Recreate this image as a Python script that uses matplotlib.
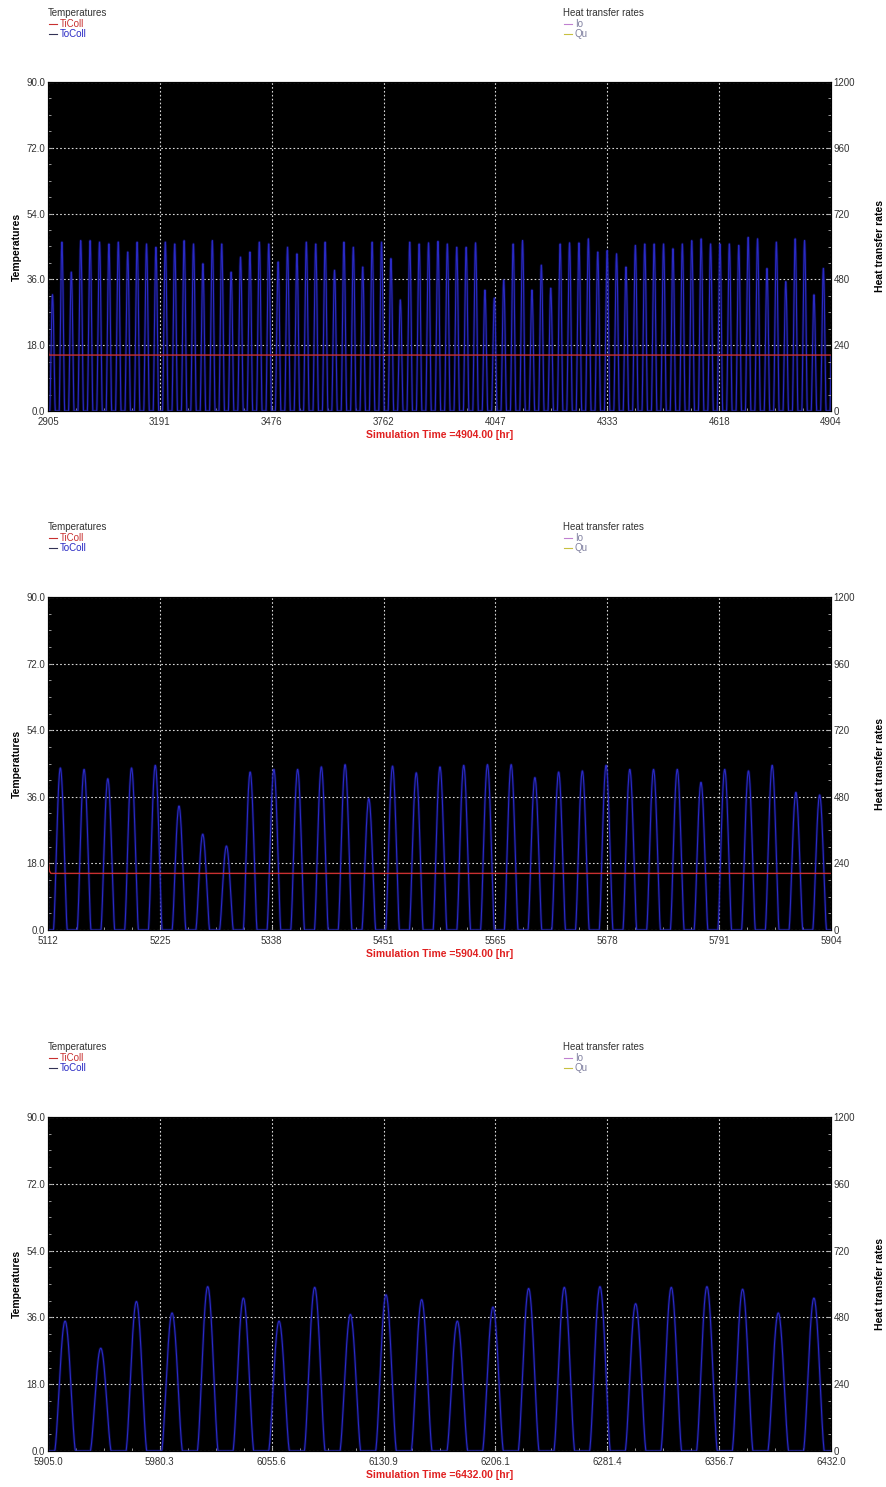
import numpy as np
import matplotlib
matplotlib.use("Agg")
import matplotlib.pyplot as plt
from matplotlib.lines import Line2D
from matplotlib.ticker import AutoMinorLocator

plt.rcParams['font.family'] = ['Liberation Sans', 'DejaVu Sans']

# simulation windows [hr]
starts = [2905, 5112, 5905]
ends = [4904, 5904, 6432]
xtick_labels = [
    ['2905', '3191', '3476', '3762', '4047', '4333', '4618', '4904'],
    ['5112', '5225', '5338', '5451', '5565', '5678', '5791', '5904'],
    ['5905.0', '5980.3', '6055.6', '6130.9', '6206.1', '6281.4', '6356.7', '6432.0'],
]
xlabels = ['Simulation Time =4904.00 [hr]',
           'Simulation Time =5904.00 [hr]',
           'Simulation Time =6432.00 [hr]']

# daily peak of ToColl (deg C), one value per day
peaks_1 = [31.8, 46.2, 38.0, 46.6, 46.6, 46.2, 45.7, 46.2, 43.5, 46.2,
           45.7, 44.8, 46.2, 45.7, 46.6, 45.7, 40.3, 46.6, 45.7, 38.0,
           42.1, 43.5, 46.2, 45.7, 40.8, 44.8, 43.0, 46.2, 45.7, 46.2,
           38.5, 46.2, 44.8, 39.4, 46.2, 46.2, 41.7, 30.4, 46.2, 45.7,
           46.0, 46.4, 45.7, 44.8, 44.8, 46.0, 33.1, 30.9, 35.8, 45.7,
           46.6, 33.1, 39.9, 33.6, 45.7, 46.0, 46.0, 47.1, 43.5, 43.9,
           43.0, 39.4, 45.3, 45.7, 45.7, 45.7, 44.4, 45.7, 46.6, 47.1,
           45.7, 45.7, 45.7, 45.3, 47.5, 47.1, 39.0, 46.2, 35.4, 47.1,
           46.6, 31.8, 39.0]
peaks_2 = [43.8, 43.4, 40.9, 43.8, 44.5, 33.5, 25.9, 22.7, 42.7, 43.4,
           43.4, 44.1, 44.7, 35.5, 44.3, 42.5, 44.1, 44.5, 44.7, 44.7,
           41.2, 42.7, 43.0, 44.5, 43.4, 43.4, 43.4, 39.9, 43.4, 43.0,
           44.5, 37.2, 36.5]
peaks_3 = [35.0, 27.7, 40.3, 37.2, 44.3, 41.2, 35.0, 44.1, 36.8, 42.1,
           40.8, 35.0, 38.8, 43.8, 44.1, 44.3, 39.7, 44.1, 44.3, 43.6,
           37.2, 41.2]
peaks = [peaks_1, peaks_2, peaks_3]
toColl_start = [30.0, 14.0, 16.0]

# TiColl: start value, settled value (None = not shown)
tiColl_start = [36.0, 32.0, None]
tiColl_level = [15.3, 15.3, None]

temp_ticks = [0, 18, 36, 54, 72, 90]
temp_labels = ['0.0', '18.0', '36.0', '54.0', '72.0', '90.0']
rate_ticks = [0, 240, 480, 720, 960, 1200]

W, H = 887, 1487
fig = plt.figure(figsize=(W / 100, H / 100), dpi=100)

panel_top = [82, 597, 1117]
panel_bot = [411, 930, 1451]
legend_y = [13, 527, 1047]
left_px, right_px = 48, 831

blue = '#2a2ac4'
glow = '#12127a'
red = '#c83030'


def toColl_series(t0, t1, pk, v0):
    t = np.arange(t0, t1 + 0.001, 0.25)
    day = np.floor(t / 24).astype(int) - t0 // 24
    h = t % 24
    prof = np.where((h > 5.5) & (h < 19.5), np.sin(np.pi * (h - 5.5) / 14.0).clip(0), 0) ** 1.5
    y = np.array(pk)[np.clip(day, 0, len(pk) - 1)] * prof
    t = np.concatenate([[t0], t])
    y = np.concatenate([[v0], y])
    return t, y


for i in range(3):
    t0, t1 = starts[i], ends[i]
    ax = fig.add_axes([left_px / W, 1 - panel_bot[i] / H,
                       (right_px - left_px) / W, (panel_bot[i] - panel_top[i]) / H])
    ax.set_facecolor('black')
    ax.grid(True, color='#d8d8d8', linestyle=(0, (1.5, 2)), linewidth=0.8)

    t, y = toColl_series(t0, t1, peaks[i], toColl_start[i])
    ax.plot(t, y, color=glow, lw=2.0, alpha=0.45)
    ax.plot(t, y, color=blue, lw=0.8)
    if tiColl_start[i] is not None:
        ax.plot([t0, t0 + 0.5, t0 + 1.5, t0 + 3, t1],
                [tiColl_start[i], tiColl_level[i] + 3, tiColl_level[i] + 0.6,
                 tiColl_level[i], tiColl_level[i]], color=red, lw=1.0)

    ax.set_xlim(t0, t1)
    ax.set_ylim(0, 90)
    ax.set_xticks(np.linspace(t0, t1, 8))
    ax.set_xticklabels(xtick_labels[i])
    ax.set_yticks(temp_ticks)
    ax.set_yticklabels(temp_labels)
    ax.xaxis.set_minor_locator(AutoMinorLocator(4))
    ax.yaxis.set_minor_locator(AutoMinorLocator(4))
    ax.tick_params(which='both', direction='in', colors='#b0b0b0', labelcolor='#333333',
                   labelsize=7, pad=2)
    ax.tick_params(axis='x', which='both', pad=4.5)
    ax.tick_params(which='major', length=3)
    ax.tick_params(which='minor', length=2)
    for s in ax.spines.values():
        s.set_color('#404040')
    ax.set_ylabel('Temperatures', fontsize=7.5, fontweight='bold', labelpad=3)
    ax.set_xlabel(xlabels[i], fontsize=7.5, fontweight='bold', color='#e02020', labelpad=2)

    ax2 = ax.twinx()
    ax2.set_ylim(0, 1200)
    ax2.set_yticks(rate_ticks)
    ax2.yaxis.set_minor_locator(AutoMinorLocator(4))
    ax2.tick_params(which='both', direction='in', colors='#b0b0b0', labelcolor='#333333',
                    labelsize=7, pad=2)
    ax2.tick_params(which='major', length=3)
    ax2.tick_params(which='minor', length=2)
    ax2.set_ylabel('Heat transfer rates', fontsize=7.5, fontweight='bold', labelpad=14)

    # header legends
    ly = legend_y[i]
    for x0, title, items in [(48, 'Temperatures', [('TiColl', red, red), ('ToColl', '#333355', blue)]),
                             (563, 'Heat transfer rates', [('Io', '#c080d0', '#8080a0'),
                                                           ('Qu', '#c8c040', '#8080a0')])]:
        fig.text(x0 / W, 1 - ly / H, title, fontsize=7, color='#333333', va='center')
        for k, (name, lc, tc) in enumerate(items):
            yy = 1 - (ly + 11 + 10 * k) / H
            fig.add_artist(Line2D([(x0 + 1) / W, (x0 + 9) / W], [yy, yy], color=lc, lw=0.8))
            fig.text((x0 + 12) / W, yy, name, fontsize=7, color=tc, va='center')

fig.savefig('out.png', dpi=100, facecolor='white')
